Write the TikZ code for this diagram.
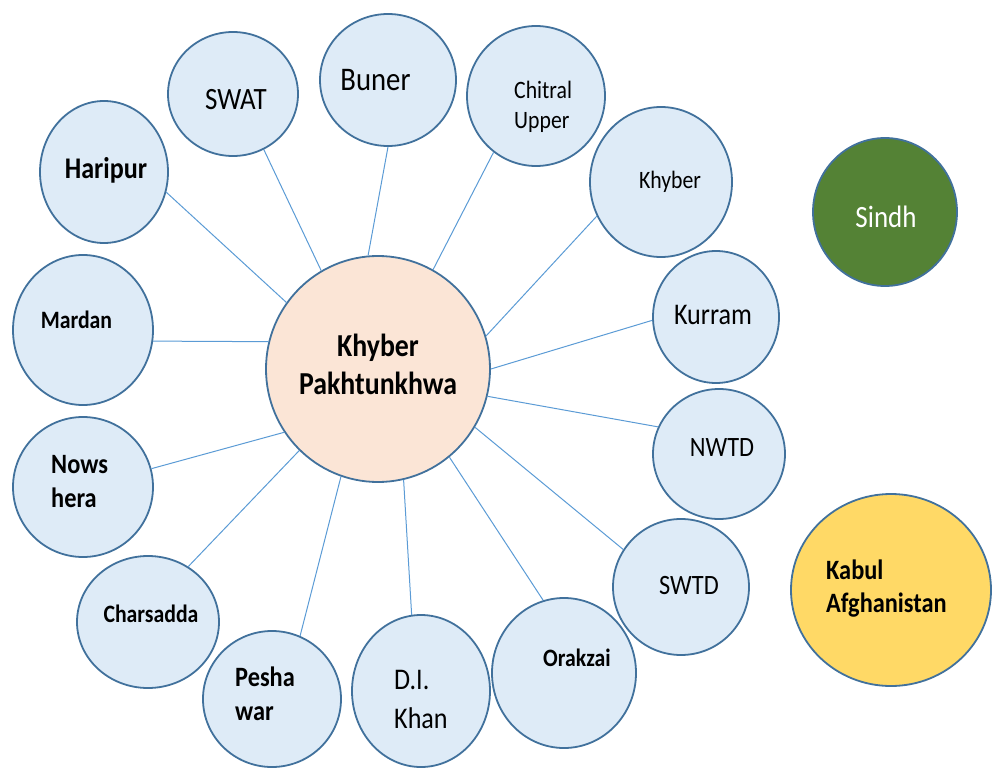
\documentclass[tikz,border=0pt]{standalone}
\usepackage{fontspec}
\setmainfont{Carlito}[FakeStretch=0.87]
\usetikzlibrary{shapes.geometric}
\definecolor{satfill}{HTML}{DEEBF7}
\definecolor{satdraw}{HTML}{41719C}
\definecolor{kpfill}{HTML}{FBE5D6}
\definecolor{sindhfill}{HTML}{548235}
\definecolor{kabulfill}{HTML}{FFD966}
\definecolor{linkcol}{HTML}{5B9BD5}
\newcommand{\fs}[2]{\fontsize{#1}{#2}\selectfont}
\tikzset{
  blob/.style={ellipse, draw=satdraw, line width=1.8pt, inner sep=0pt},
  sat/.style={blob, fill=satfill},
  lbl/.style={inner sep=0pt, anchor=base, text=black},
  lbll/.style={inner sep=0pt, anchor=base west, align=left, text=black},
  link/.style={draw=linkcol, line width=1pt}
}
\begin{document}
\begin{tikzpicture}[x=1pt,y=-1pt]
\useasboundingbox (0,0) rectangle (993,776);
% circles
\node[blob, fill=kpfill, minimum width=224pt, minimum height=226pt] (kp) at (378,369) {};
\node[sat, minimum width=128pt, minimum height=142pt] (haripur) at (104,172) {};
\node[sat, minimum width=130pt, minimum height=124pt] (swat) at (233,94) {};
\node[sat, minimum width=136pt, minimum height=132pt] (buner) at (388,80) {};
\node[sat, minimum width=138pt, minimum height=140pt] (chitral) at (536,96) {};
\node[sat, minimum width=142pt, minimum height=150pt] (khyber) at (661,182) {};
\node[sat, minimum width=126pt, minimum height=132pt] (kurram) at (716,317) {};
\node[sat, minimum width=132pt, minimum height=130pt] (nwtd) at (719,454) {};
\node[sat, minimum width=136pt, minimum height=136pt] (swtd) at (681,587) {};
\node[sat, minimum width=144pt, minimum height=150pt] (orakzai) at (564,673) {};
\node[sat, minimum width=138pt, minimum height=152pt] (dikhan) at (421,691) {};
\node[sat, minimum width=138pt, minimum height=136pt] (peshawar) at (272,699) {};
\node[sat, minimum width=142pt, minimum height=132pt] (charsadda) at (148,622) {};
\node[sat, minimum width=140pt, minimum height=140pt] (nowshera) at (83,487) {};
\node[sat, minimum width=140pt, minimum height=150pt] (mardan) at (83,330) {};
\node[blob, fill=sindhfill, minimum width=144pt, minimum height=148pt] (sindh) at (885,212) {};
\node[blob, fill=kabulfill, minimum width=200pt, minimum height=192pt] (kabul) at (891,590) {};
% connectors
\draw[link] (kp.144.6) -- (haripur.-18.2);
\draw[link] (kp.120.4) -- (swat.-61);
\draw[link] (kp.95.1) -- (buner.-90);
\draw[link] (kp.61.3) -- (chitral.-127.7);
\draw[link] (kp.17.8) -- (khyber.208.7);
\draw[link] (kp.0.5) -- (kurram.183.6);
\draw[link] (kp.-14.2) -- (nwtd.156.9);
\draw[link] (kp.-31.8) -- (swtd.147.9);
\draw[link] (kp.-51.1) -- (orakzai.106);
\draw[link] (kp.-77.2) -- (dikhan.97.5);
\draw[link] (kp.-109.2) -- (peshawar.66.8);
\draw[link] (kp.-134.3) -- (charsadda.54.2);
\draw[link] (kp.-146.9) -- (nowshera.15.4);
\draw[link] (kp.166) -- (mardan.-9.7);
% labels (multi-line: base = last line's baseline)
\node[lbl, align=center, font=\bfseries\fs{32}{38}] (t-kp) at (378,394) {Khyber\\Pakhtunkhwa};
\node[lbl, font=\bfseries\fs{30}{36}] (t-haripur) at (106,178) {Haripur};
\node[lbl, font=\fs{31}{36}] (t-swat) at (236,110) {SWAT};
\node[lbl, font=\fs{33}{38}] (t-buner) at (375.5,91) {Buner};
\node[lbll, font=\fs{25}{29}] (t-chitral) at (514,128) {Chitral\\Upper};
\node[lbl, font=\fs{25}{29}] (t-khyber) at (670,188) {Khyber};
\node[lbl, font=\fs{31}{36}, text=white] (t-sindh) at (886,227) {Sindh};
\node[lbl, font=\fs{30}{36}] (t-kurram) at (713,324) {Kurram};
\node[lbl, font=\fs{28}{34}] (t-nwtd) at (722,456) {NWTD};
\node[lbl, font=\fs{28}{34}] (t-swtd) at (689,594) {SWTD};
\node[lbl, font=\bfseries\fs{25}{30}] (t-orakzai) at (577,666) {Orakzai};
\node[lbll, font=\bfseries\fs{28}{33}] (t-kabul) at (826,612) {Kabul\\Afghanistan};
\node[lbll, font=\fs{30}{39}] (t-dikhan) at (394,728) {D.I.\\Khan};
\node[lbll, font=\bfseries\fs{28}{34}] (t-peshawar) at (235,720) {Pesha\\war};
\node[lbl, font=\bfseries\fs{25}{30}] (t-charsadda) at (151,622) {Charsadda};
\node[lbll, font=\bfseries\fs{28}{34}] (t-nowshera) at (51,507) {Nows\\hera};
\node[lbl, font=\bfseries\fs{25}{30}] (t-mardan) at (76.5,328) {Mardan};
\end{tikzpicture}
\end{document}
